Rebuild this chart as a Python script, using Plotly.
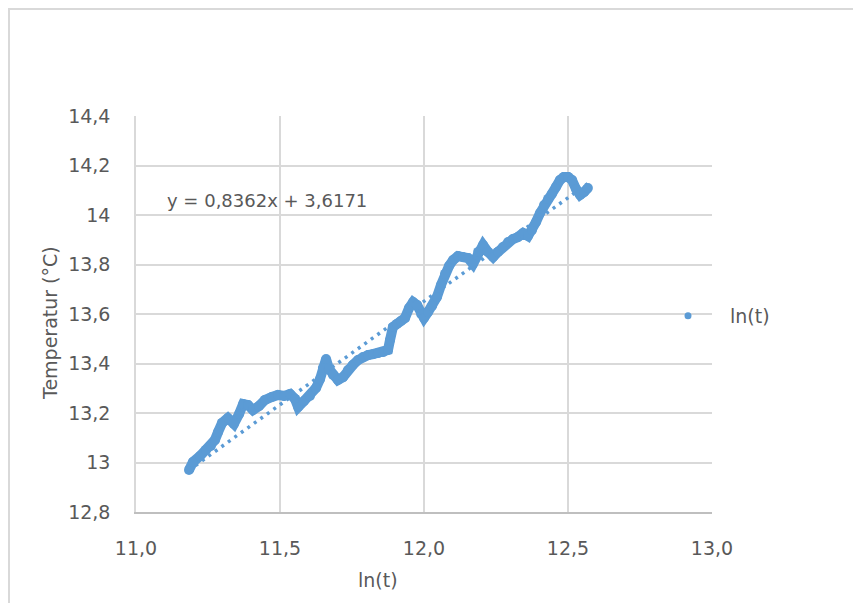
import plotly.graph_objects as go

# Data (ln(t) vs temperature)
ln_t = [11.184, 11.198, 11.222, 11.243, 11.260, 11.274, 11.285, 11.299, 11.319, 11.340,
        11.358, 11.372, 11.389, 11.406, 11.427, 11.448, 11.472, 11.493, 11.514, 11.535,
        11.552, 11.563, 11.583, 11.604, 11.625, 11.639, 11.649, 11.660, 11.670, 11.684,
        11.701, 11.719, 11.736, 11.753, 11.771, 11.788, 11.806, 11.823, 11.840, 11.858,
        11.875, 11.882, 11.892, 11.906, 11.920, 11.934, 11.948, 11.962, 11.976, 11.990,
        12.000, 12.014, 12.028, 12.045, 12.059, 12.073, 12.087, 12.101, 12.118, 12.135,
        12.153, 12.170, 12.188, 12.205, 12.222, 12.240, 12.257, 12.274, 12.292, 12.309,
        12.326, 12.344, 12.361, 12.375, 12.389, 12.403, 12.417, 12.431, 12.444, 12.458,
        12.472, 12.486, 12.500, 12.514, 12.528, 12.542, 12.556, 12.569]
temperature = [12.970, 13.002, 13.026, 13.051, 13.067, 13.091, 13.123, 13.160, 13.180, 13.156,
               13.196, 13.236, 13.232, 13.212, 13.228, 13.253, 13.265, 13.273, 13.269, 13.277,
               13.257, 13.224, 13.248, 13.269, 13.301, 13.337, 13.382, 13.418, 13.378, 13.354,
               13.333, 13.345, 13.374, 13.394, 13.414, 13.426, 13.434, 13.438, 13.442, 13.446,
               13.455, 13.495, 13.547, 13.560, 13.572, 13.584, 13.624, 13.648, 13.636, 13.600,
               13.584, 13.608, 13.632, 13.669, 13.717, 13.762, 13.794, 13.818, 13.834, 13.830,
               13.826, 13.802, 13.851, 13.879, 13.851, 13.830, 13.851, 13.871, 13.891, 13.903,
               13.911, 13.927, 13.915, 13.939, 13.972, 14.008, 14.040, 14.065, 14.085, 14.113,
               14.141, 14.154, 14.154, 14.141, 14.105, 14.081, 14.093, 14.109]

slope = 0.8362
intercept = 3.6171
trend_x = [min(ln_t), max(ln_t)]
trend_y = [slope * v + intercept for v in trend_x]

x_tickvals = [11.0, 11.5, 12.0, 12.5, 13.0]
x_ticktext = ["11,0", "11,5", "12,0", "12,5", "13,0"]
y_tickvals = [12.8, 13.0, 13.2, 13.4, 13.6, 13.8, 14.0, 14.2, 14.4]
y_ticktext = ["12,8", "13", "13,2", "13,4", "13,6", "13,8", "14", "14,2", "14,4"]

BLUE = "#5B9BD5"
TXT = "#595959"
GRID = "#D9D9D9"
FONT = "DejaVu Sans"

# page has an 8px body margin; plot area in screen px: x 136..712, y 116..512
OFF = 8
L, R, T, B = 136 - OFF, 712 - OFF, 116 - OFF, 512 - OFF
W, H = 861, 603
PW, PH = R - L, B - T


def px(xs):
    return (xs - OFF - L) / PW


def py(ys):
    return (B - (ys - OFF)) / PH


fig = go.Figure()
fig.add_trace(go.Scatter(
    x=trend_x, y=trend_y, mode="lines",
    line=dict(color=BLUE, width=3.5, dash="3px,5px"),
    showlegend=False, hoverinfo="skip"))
fig.add_trace(go.Scatter(
    x=ln_t, y=temperature, mode="lines+markers", name="ln(t)",
    line=dict(color=BLUE, width=10, shape="linear"),
    marker=dict(color=BLUE, size=10),
    showlegend=False))
fig.add_trace(go.Scatter(
    x=[None], y=[None], mode="markers", name="ln(t)",
    marker=dict(color=BLUE, size=7), showlegend=True))

fig.update_layout(
    width=W, height=H,
    margin=dict(l=L, r=W - R, t=T, b=H - B),
    paper_bgcolor="white", plot_bgcolor="white",
    font=dict(family=FONT, size=19, color=TXT),
    xaxis=dict(range=[11.0, 13.0], tickvals=x_tickvals, ticktext=x_ticktext,
               showgrid=True, gridcolor=GRID, gridwidth=1.5,
               showline=True, linecolor="#BFBFBF", linewidth=1.5, mirror=False,
               zeroline=False, ticks="", ticklabelstandoff=18,
               tickfont=dict(family=FONT, size=19, color=TXT)),
    yaxis=dict(range=[12.8, 14.4], tickvals=y_tickvals, ticktext=y_ticktext,
               showgrid=True, gridcolor=GRID, gridwidth=1.5,
               showline=True, linecolor=GRID, linewidth=1.5,
               zeroline=False, ticks="", ticklabelstandoff=20,
               tickfont=dict(family=FONT, size=19, color=TXT)),
    legend=dict(x=px(646), y=py(316), xanchor="left", yanchor="middle",
                itemwidth=74, font=dict(family=FONT, size=19, color=TXT),
                bgcolor="rgba(0,0,0,0)"),
    shapes=[dict(type="rect", xref="paper", yref="paper",
                 x0=px(9), x1=px(856), y0=py(640), y1=py(9),
                 line=dict(color=GRID, width=2), fillcolor="rgba(0,0,0,0)",
                 layer="below")],
    annotations=[
        dict(text="y = 0,8362x + 3,6171", xref="paper", yref="paper",
             x=px(267), y=py(200), showarrow=False,
             xanchor="center", yanchor="middle",
             font=dict(family=FONT, size=18, color=TXT)),
        dict(text="Temperatur (°C)", xref="paper", yref="paper",
             x=px(50), y=py(323), showarrow=False,
             textangle=-90, xanchor="center", yanchor="middle",
             font=dict(family=FONT, size=19, color=TXT)),
        dict(text="ln(t)", xref="paper", yref="paper",
             x=px(378), y=py(580), showarrow=False,
             xanchor="center", yanchor="middle",
             font=dict(family=FONT, size=19, color=TXT)),
    ],
)

fig.write_html("out.html")
